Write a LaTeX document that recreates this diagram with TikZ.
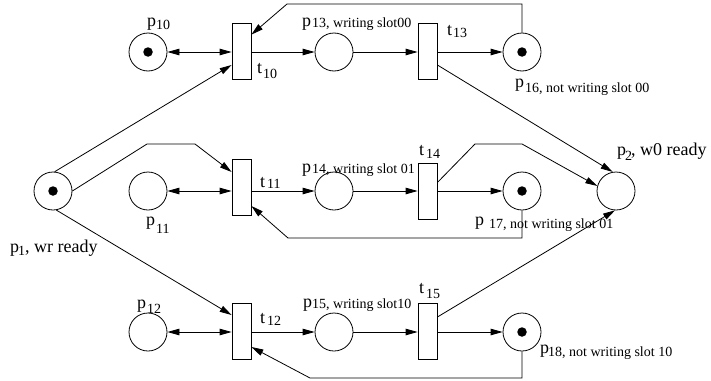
\documentclass[tikz,border=0pt]{standalone}
\usepackage{fontspec}
\setmainfont{Liberation Serif}
\usetikzlibrary{arrows.meta,calc}
\begin{document}
\begin{tikzpicture}[x=1pt,y=-1pt,
  place/.style={circle,draw,line width=0.8pt,minimum size=38pt,inner sep=0pt},
  trans/.style={rectangle,draw,line width=0.8pt,minimum width=19pt,minimum height=56pt,inner sep=0pt},
  token/.style={circle,fill,minimum size=9.5pt,inner sep=0pt},
  arc/.style={line width=0.8pt,-{Triangle[length=12pt,width=6.5pt]}},
  darc/.style={line width=0.8pt,{Triangle[length=12pt,width=6.5pt]}-{Triangle[length=12pt,width=6.5pt]}},
  big/.style={inner sep=0pt,anchor=base west,font=\fontsize{18}{20}\selectfont},
  small/.style={inner sep=0pt,anchor=base west,font=\fontsize{14}{16}\selectfont}]
\useasboundingbox (0,0) rectangle (711,380);
% places
\node[place] (p10) at (148,52) {};
\node[place] (p13) at (334,52) {};
\node[place] (p16) at (522,52) {};
\node[place] (p1) at (53,191) {};
\node[place] (p11) at (148,191) {};
\node[place] (p14) at (334,191) {};
\node[place] (p17) at (522,191) {};
\node[place] (p2) at (616,191) {};
\node[place] (p12) at (148,332) {};
\node[place] (p15) at (334,332) {};
\node[place] (p18) at (522,332) {};
% tokens
\node[token] (k10) at (p10) {};
\node[token] (k16) at (p16) {};
\node[token] (k1) at (p1) {};
\node[token] (k17) at (p17) {};
\node[token] (k18) at (p18) {};
% transitions
\node[trans] (t10) at (241.5,51) {};
\node[trans] (t13) at (427.5,51) {};
\node[trans] (t11) at (241.5,187) {};
\node[trans] (t14) at (427.5,191.5) {};
\node[trans] (t12) at (241.5,331) {};
\node[trans] (t15) at (427.5,331) {};
% helper coordinates
\coordinate (c2) at (287,4);
\coordinate (c3) at (147,144);
\coordinate (c4) at (195,144);
\coordinate (c5) at (475,144);
\coordinate (c6) at (522,144);
\coordinate (c7) at (288,238);
\coordinate (c8) at (310,378);
% arcs row 1
\draw[darc] (p10.east) -- (p10.east -| t10.west);
\draw[arc] (t10.east |- p13.west) -- (p13.west);
\draw[arc] (p13.east) -- (p13.east -| t13.west);
\draw[arc] (t13.east |- p16.west) -- (p16.west);
\draw[arc] (p16.north) |- (c2) -- ([yshift=-12pt]t10.north east);
\draw[arc] ([yshift=-14pt]t13.east) -- (p2.100);
% arcs from p1
\draw[arc] (p1.85) -- ([yshift=-14pt]t10.west);
\draw[arc] (p1.east) -- (c3) -- (c4) -- ([yshift=15pt]t11.west);
\draw[arc] (p1.-80) -- ([yshift=16pt]t12.west);
% row 2
\draw[darc] (p11.east) -- (p11.east -| t11.west);
\draw[arc] (t11.east |- p14.west) -- (p14.west);
\draw[arc] (p14.east) -- (p14.east -| t14.west);
\draw[arc] (t14.east |- p17.west) -- (p17.west);
\draw[arc] ([yshift=9pt]t14.east) -- (c5) -- (c6) -- (p2.165);
\draw[arc] (p17.south) |- (c7) -- ([yshift=-19pt]t11.east);
% row 3
\draw[darc] (p12.east) -- (p12.east -| t12.west);
\draw[arc] (t12.east |- p15.west) -- (p15.west);
\draw[arc] (p15.east) -- (p15.east -| t15.west);
\draw[arc] (t15.east |- p18.west) -- (p18.west);
\draw[arc] ([yshift=14pt]t15.east) -- (p2.-93);
\draw[arc] (p18.south) |- (c8) -- ([yshift=-16pt]t12.east);
% labels
\node[big] (lp10) at (147,26) {p};
\node[small] (lp10s) at (156,29) {10};
\node[big] (lp13) at (302,26) {p};
\node[small] (lp13s) at (312,27) {13, writing slot00};
\node[big] (lt10) at (257,73) {t};
\node[small] (lt10s) at (263,78) {10};
\node[big] (lt13) at (447,35) {t};
\node[small] (lt13s) at (453,37) {13};
\node[big] (lp16) at (515,87) {p};
\node[small] (lp16s) at (525,92) {16, not writing slot 00};
\node[big] (lp1) at (10,252) {p};
\node[small] (lp1s) at (18,255) {1};
\node[big] (lp1t) at (25,252) {, wr ready};
\node[big] (lp2) at (617,155) {p};
\node[small] (lp2s) at (625,160) {2};
\node[big] (lp2t) at (631,155) {, w0 ready};
\node[big] (lp11) at (146,225) {p};
\node[small] (lp11s) at (156,233) {11};
\node[big] (lt11) at (260,187) {t};
\node[small] (lt11s) at (267,188) {11};
\node[big] (lp14) at (302,172) {p};
\node[small] (lp14s) at (312,173) {14, writing slot 01};
\node[big] (lt14) at (419,155) {t};
\node[small] (lt14s) at (426,158) {14};
\node[big] (lp17) at (475,225) {p};
\node[small] (lp17s) at (489,228) {17, not writing slot 01};
\node[big] (lp12) at (137,308) {p};
\node[small] (lp12s) at (147,313) {12};
\node[big] (lt12) at (260,323) {t};
\node[small] (lt12s) at (267,325) {12};
\node[big] (lp15) at (303,307) {p};
\node[small] (lp15s) at (312,308) {15, writing slot10};
\node[big] (lt15) at (419,293) {t};
\node[small] (lt15s) at (426,298) {15};
\node[big] (lp18) at (540,353) {p};
\node[small] (lp18s) at (548,356) {18, not writing slot 10};
\end{tikzpicture}
\end{document}
